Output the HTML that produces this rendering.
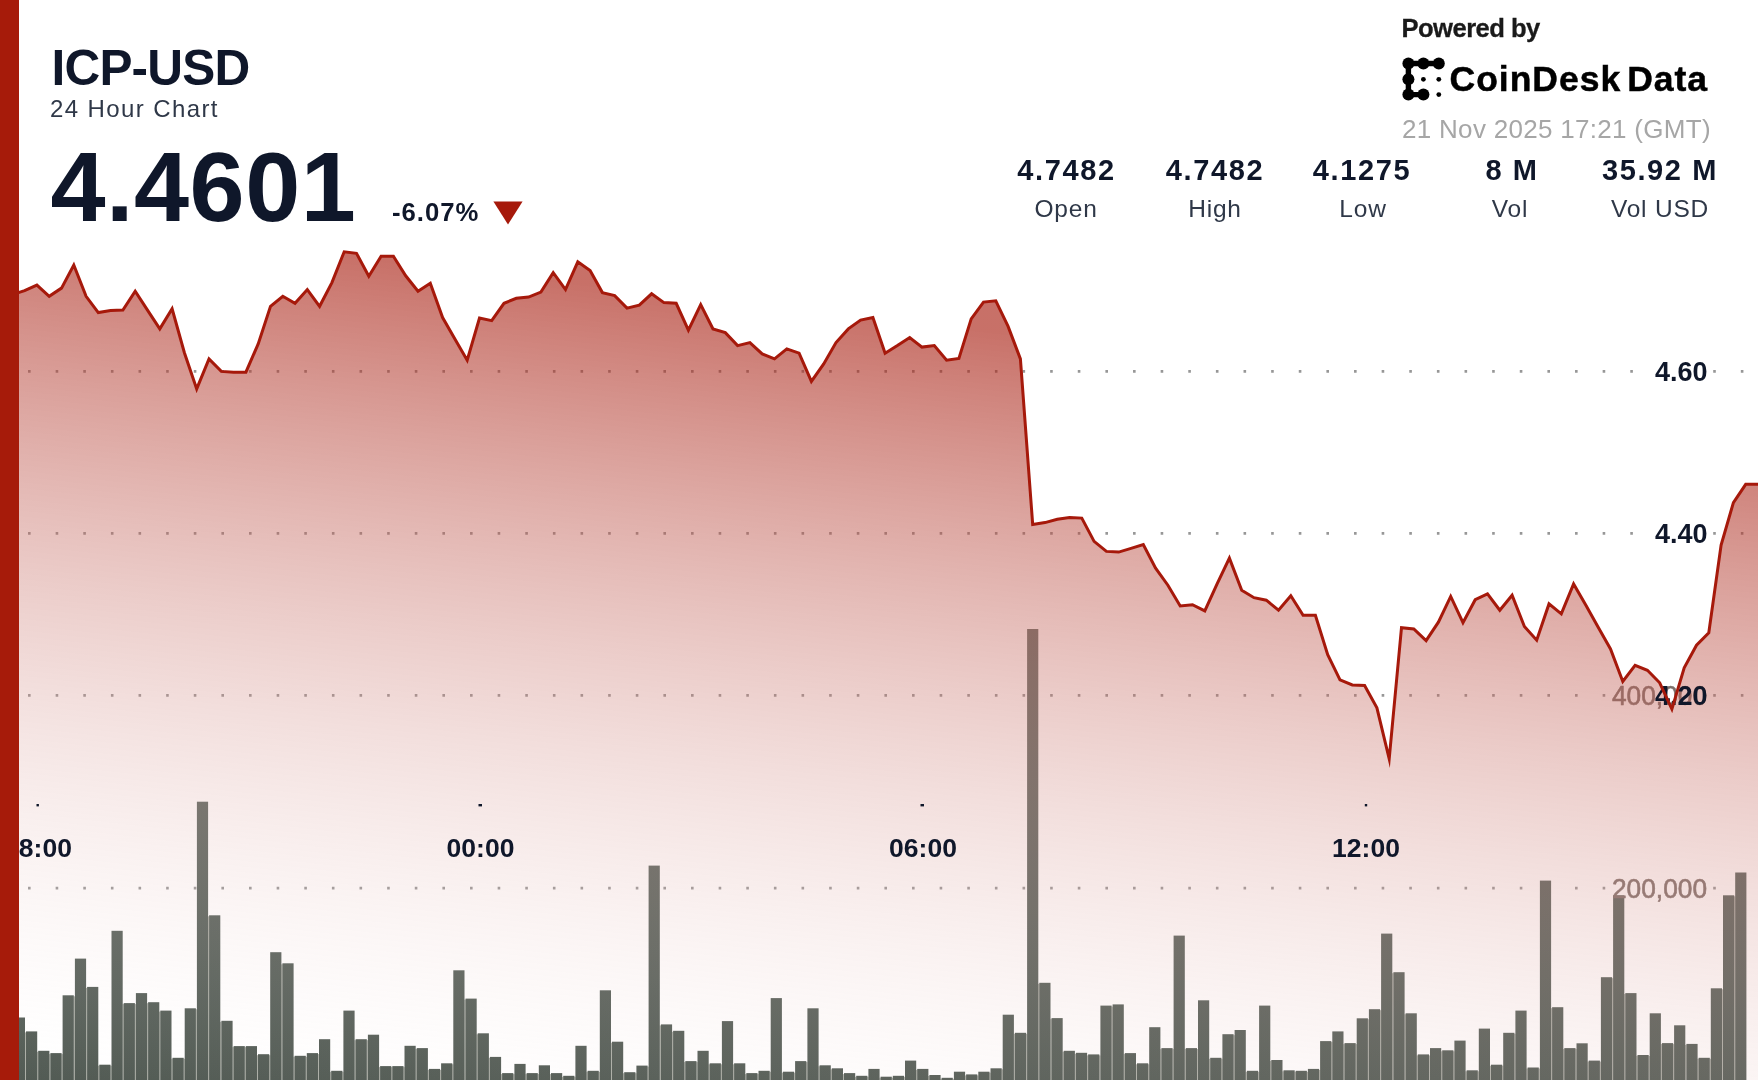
<!DOCTYPE html>
<html>
<head>
<meta charset="utf-8">
<title>ICP-USD 24 Hour Chart</title>
<style>
html,body{margin:0;padding:0;}
body{width:1758px;height:1080px;overflow:hidden;background:#fff;position:relative;font-family:"Liberation Sans",sans-serif;}
#wrap{position:absolute;left:0;top:0;width:1758px;height:1080px;overflow:hidden;filter:blur(0.5px);}
svg{position:absolute;left:0;top:0;}
.t{position:absolute;white-space:nowrap;line-height:1;}
.navy{color:#0f172a;}
.b{font-weight:bold;}
#leftbar{position:absolute;left:0;top:0;width:19px;height:1080px;background:#a61b0a;}
#sym{left:51.5px;top:43px;font-size:49.5px;letter-spacing:-0.8px;}
#sub{left:50px;top:97px;font-size:24px;color:#2f3848;letter-spacing:1.4px;}
#price{left:50.5px;top:137px;font-size:99px;letter-spacing:0.5px;}
#chg{left:392px;top:199.5px;font-size:25.7px;letter-spacing:1px;}
.val{font-size:29px;letter-spacing:1.6px;text-align:center;width:160px;top:156px;}
.lab{font-size:24.5px;letter-spacing:0.8px;text-align:center;width:160px;top:197px;color:#2f3848;}
#pw{left:1401.5px;top:16px;font-size:25.6px;color:#1a1a1a;letter-spacing:-0.55px;-webkit-text-stroke:0.3px #1a1a1a;}
#cd{left:1449.5px;top:62px;font-size:35.5px;color:#000;letter-spacing:1.0px;-webkit-text-stroke:0.5px #000;}
#dt{left:1402px;top:116px;font-size:26px;color:#a6a6a6;letter-spacing:0.3px;}
</style>
</head>
<body>
<div id="wrap">
<svg width="1758" height="1080" viewBox="0 0 1758 1080">
<defs>
<linearGradient id="g" x1="879" y1="316.9" x2="775.5" y2="1204.7" gradientUnits="userSpaceOnUse">
<stop offset="0" stop-color="#a6190b" stop-opacity="0.62"/>
<stop offset="1" stop-color="#ffffff" stop-opacity="0"/>
</linearGradient>
<linearGradient id="bg" x1="0" y1="630" x2="0" y2="1080" gradientUnits="userSpaceOnUse">
<stop offset="0" stop-color="#64706a"/>
<stop offset="1" stop-color="#4e5750"/>
</linearGradient>
</defs>
<g stroke="#979797" stroke-width="2.8" stroke-dasharray="2.6 25.025" fill="none">
<path d="M0.4,371.4H1646M1713.2,371.4H1758"/><path d="M0.4,533.3H1646M1713.2,533.3H1758"/><path d="M0.4,695.3H1618M1713.2,695.3H1758"/><path d="M0.4,888.2H1618M1713.2,888.2H1758"/>
</g>
<g fill="url(#bg)"><g fill="#a9aca4"><rect x="12.5" y="1041.0" width="1.6" height="41.0"/><rect x="24.7" y="1032.4" width="1.6" height="49.6"/><rect x="36.9" y="1051.8" width="1.6" height="30.2"/><rect x="49.1" y="1054.1" width="1.6" height="27.9"/><rect x="61.3" y="1054.1" width="1.6" height="27.9"/><rect x="73.5" y="996.3" width="1.6" height="85.7"/><rect x="85.8" y="987.9" width="1.6" height="94.1"/><rect x="98.0" y="1065.7" width="1.6" height="16.3"/><rect x="110.2" y="1065.7" width="1.6" height="16.3"/><rect x="122.4" y="1004.1" width="1.6" height="77.9"/><rect x="134.6" y="1004.1" width="1.6" height="77.9"/><rect x="146.8" y="1003.2" width="1.6" height="78.8"/><rect x="159.0" y="1011.6" width="1.6" height="70.4"/><rect x="171.2" y="1058.8" width="1.6" height="23.2"/><rect x="183.4" y="1058.8" width="1.6" height="23.2"/><rect x="195.6" y="1009.3" width="1.6" height="72.7"/><rect x="207.8" y="916.3" width="1.6" height="165.7"/><rect x="220.0" y="1021.8" width="1.6" height="60.2"/><rect x="232.3" y="1047.1" width="1.6" height="34.9"/><rect x="244.5" y="1047.1" width="1.6" height="34.9"/><rect x="256.7" y="1055.2" width="1.6" height="26.8"/><rect x="268.9" y="1055.2" width="1.6" height="26.8"/><rect x="281.1" y="964.3" width="1.6" height="117.7"/><rect x="293.3" y="1056.8" width="1.6" height="25.2"/><rect x="305.5" y="1056.8" width="1.6" height="25.2"/><rect x="317.7" y="1054.1" width="1.6" height="27.9"/><rect x="329.9" y="1071.8" width="1.6" height="10.2"/><rect x="342.1" y="1071.8" width="1.6" height="10.2"/><rect x="354.3" y="1040.2" width="1.6" height="41.8"/><rect x="366.5" y="1040.2" width="1.6" height="41.8"/><rect x="378.8" y="1067.1" width="1.6" height="14.9"/><rect x="391.0" y="1067.1" width="1.6" height="14.9"/><rect x="403.2" y="1067.1" width="1.6" height="14.9"/><rect x="415.4" y="1049.1" width="1.6" height="32.9"/><rect x="427.6" y="1069.9" width="1.6" height="12.1"/><rect x="439.8" y="1069.9" width="1.6" height="12.1"/><rect x="452.0" y="1064.3" width="1.6" height="17.7"/><rect x="464.2" y="999.6" width="1.6" height="82.4"/><rect x="476.4" y="1034.3" width="1.6" height="47.7"/><rect x="488.6" y="1057.9" width="1.6" height="24.1"/><rect x="500.8" y="1074.1" width="1.6" height="7.9"/><rect x="513.0" y="1074.1" width="1.6" height="7.9"/><rect x="525.3" y="1074.1" width="1.6" height="7.9"/><rect x="537.5" y="1074.1" width="1.6" height="7.9"/><rect x="549.7" y="1074.1" width="1.6" height="7.9"/><rect x="561.9" y="1076.8" width="1.6" height="5.2"/><rect x="574.1" y="1076.8" width="1.6" height="5.2"/><rect x="586.3" y="1071.8" width="1.6" height="10.2"/><rect x="598.5" y="1071.8" width="1.6" height="10.2"/><rect x="610.7" y="1042.7" width="1.6" height="39.3"/><rect x="622.9" y="1073.2" width="1.6" height="8.8"/><rect x="635.1" y="1073.2" width="1.6" height="8.8"/><rect x="647.3" y="1066.6" width="1.6" height="15.4"/><rect x="659.5" y="1025.4" width="1.6" height="56.6"/><rect x="671.8" y="1031.8" width="1.6" height="50.2"/><rect x="684.0" y="1062.1" width="1.6" height="19.9"/><rect x="696.2" y="1062.1" width="1.6" height="19.9"/><rect x="708.4" y="1064.3" width="1.6" height="17.7"/><rect x="720.6" y="1064.3" width="1.6" height="17.7"/><rect x="732.8" y="1064.3" width="1.6" height="17.7"/><rect x="745.0" y="1074.1" width="1.6" height="7.9"/><rect x="757.2" y="1074.1" width="1.6" height="7.9"/><rect x="769.4" y="1071.8" width="1.6" height="10.2"/><rect x="781.6" y="1072.7" width="1.6" height="9.3"/><rect x="793.8" y="1072.7" width="1.6" height="9.3"/><rect x="806.0" y="1062.1" width="1.6" height="19.9"/><rect x="818.3" y="1066.3" width="1.6" height="15.7"/><rect x="830.5" y="1069.3" width="1.6" height="12.7"/><rect x="842.7" y="1074.1" width="1.6" height="7.9"/><rect x="854.9" y="1076.8" width="1.6" height="5.2"/><rect x="867.1" y="1076.8" width="1.6" height="5.2"/><rect x="879.3" y="1077.7" width="1.6" height="4.3"/><rect x="891.5" y="1077.7" width="1.6" height="4.3"/><rect x="903.7" y="1076.8" width="1.6" height="5.2"/><rect x="915.9" y="1069.9" width="1.6" height="12.1"/><rect x="928.1" y="1076.0" width="1.6" height="6.0"/><rect x="940.3" y="1078.8" width="1.6" height="3.2"/><rect x="952.5" y="1078.8" width="1.6" height="3.2"/><rect x="964.8" y="1075.4" width="1.6" height="6.6"/><rect x="977.0" y="1075.4" width="1.6" height="6.6"/><rect x="989.2" y="1072.7" width="1.6" height="9.3"/><rect x="1001.4" y="1069.3" width="1.6" height="12.7"/><rect x="1013.6" y="1033.8" width="1.6" height="48.2"/><rect x="1025.8" y="1033.8" width="1.6" height="48.2"/><rect x="1038.0" y="983.8" width="1.6" height="98.2"/><rect x="1050.2" y="1019.1" width="1.6" height="62.9"/><rect x="1062.4" y="1051.8" width="1.6" height="30.2"/><rect x="1074.6" y="1053.8" width="1.6" height="28.2"/><rect x="1086.8" y="1055.4" width="1.6" height="26.6"/><rect x="1099.0" y="1055.4" width="1.6" height="26.6"/><rect x="1111.3" y="1006.6" width="1.6" height="75.4"/><rect x="1123.5" y="1054.1" width="1.6" height="27.9"/><rect x="1135.7" y="1064.3" width="1.6" height="17.7"/><rect x="1147.9" y="1064.3" width="1.6" height="17.7"/><rect x="1160.1" y="1049.1" width="1.6" height="32.9"/><rect x="1172.3" y="1049.1" width="1.6" height="32.9"/><rect x="1184.5" y="1049.1" width="1.6" height="32.9"/><rect x="1196.7" y="1049.1" width="1.6" height="32.9"/><rect x="1208.9" y="1058.8" width="1.6" height="23.2"/><rect x="1221.1" y="1058.8" width="1.6" height="23.2"/><rect x="1233.3" y="1035.2" width="1.6" height="46.8"/><rect x="1245.5" y="1071.8" width="1.6" height="10.2"/><rect x="1257.8" y="1071.8" width="1.6" height="10.2"/><rect x="1270.0" y="1061.0" width="1.6" height="21.0"/><rect x="1282.2" y="1071.3" width="1.6" height="10.7"/><rect x="1294.4" y="1071.8" width="1.6" height="10.2"/><rect x="1306.6" y="1071.8" width="1.6" height="10.2"/><rect x="1318.8" y="1069.9" width="1.6" height="12.1"/><rect x="1331.0" y="1042.1" width="1.6" height="39.9"/><rect x="1343.2" y="1044.1" width="1.6" height="37.9"/><rect x="1355.4" y="1044.1" width="1.6" height="37.9"/><rect x="1367.6" y="1019.3" width="1.6" height="62.7"/><rect x="1379.8" y="1010.2" width="1.6" height="71.8"/><rect x="1392.0" y="973.2" width="1.6" height="108.8"/><rect x="1404.3" y="1014.3" width="1.6" height="67.7"/><rect x="1416.5" y="1055.4" width="1.6" height="26.6"/><rect x="1428.7" y="1055.4" width="1.6" height="26.6"/><rect x="1440.9" y="1051.3" width="1.6" height="30.7"/><rect x="1453.1" y="1051.3" width="1.6" height="30.7"/><rect x="1465.3" y="1071.3" width="1.6" height="10.7"/><rect x="1477.5" y="1071.3" width="1.6" height="10.7"/><rect x="1489.7" y="1065.7" width="1.6" height="16.3"/><rect x="1501.9" y="1065.7" width="1.6" height="16.3"/><rect x="1514.1" y="1033.8" width="1.6" height="48.2"/><rect x="1526.3" y="1068.5" width="1.6" height="13.5"/><rect x="1538.5" y="1068.5" width="1.6" height="13.5"/><rect x="1550.8" y="1008.2" width="1.6" height="73.8"/><rect x="1563.0" y="1049.1" width="1.6" height="32.9"/><rect x="1575.2" y="1049.1" width="1.6" height="32.9"/><rect x="1587.4" y="1061.6" width="1.6" height="20.4"/><rect x="1599.6" y="1061.6" width="1.6" height="20.4"/><rect x="1611.8" y="978.2" width="1.6" height="103.8"/><rect x="1624.0" y="994.1" width="1.6" height="87.9"/><rect x="1636.2" y="1056.0" width="1.6" height="26.0"/><rect x="1648.4" y="1056.0" width="1.6" height="26.0"/><rect x="1660.6" y="1044.1" width="1.6" height="37.9"/><rect x="1672.8" y="1044.1" width="1.6" height="37.9"/><rect x="1685.0" y="1044.9" width="1.6" height="37.1"/><rect x="1697.3" y="1058.8" width="1.6" height="23.2"/><rect x="1709.5" y="1058.8" width="1.6" height="23.2"/><rect x="1721.7" y="989.3" width="1.6" height="92.7"/><rect x="1733.9" y="896.3" width="1.6" height="185.7"/></g><rect x="1.6" y="1040.0" width="11.2" height="42.0"/><rect x="13.8" y="1017.5" width="11.2" height="64.5"/><rect x="26.0" y="1031.4" width="11.2" height="50.6"/><rect x="38.2" y="1050.8" width="11.2" height="31.2"/><rect x="50.4" y="1053.1" width="11.2" height="28.9"/><rect x="62.6" y="995.3" width="11.2" height="86.7"/><rect x="74.9" y="958.6" width="11.2" height="123.4"/><rect x="87.1" y="986.9" width="11.2" height="95.1"/><rect x="99.3" y="1064.7" width="11.2" height="17.3"/><rect x="111.5" y="930.8" width="11.2" height="151.2"/><rect x="123.7" y="1003.1" width="11.2" height="78.9"/><rect x="135.9" y="993.1" width="11.2" height="88.9"/><rect x="148.1" y="1002.2" width="11.2" height="79.8"/><rect x="160.3" y="1010.6" width="11.2" height="71.4"/><rect x="172.5" y="1057.8" width="11.2" height="24.2"/><rect x="184.7" y="1008.3" width="11.2" height="73.7"/><rect x="196.9" y="801.7" width="11.2" height="280.3"/><rect x="209.1" y="915.3" width="11.2" height="166.7"/><rect x="221.4" y="1020.8" width="11.2" height="61.2"/><rect x="233.6" y="1046.1" width="11.2" height="35.9"/><rect x="245.8" y="1046.1" width="11.2" height="35.9"/><rect x="258.0" y="1054.2" width="11.2" height="27.8"/><rect x="270.2" y="952.2" width="11.2" height="129.8"/><rect x="282.4" y="963.3" width="11.2" height="118.7"/><rect x="294.6" y="1055.8" width="11.2" height="26.2"/><rect x="306.8" y="1053.1" width="11.2" height="28.9"/><rect x="319.0" y="1039.2" width="11.2" height="42.8"/><rect x="331.2" y="1070.8" width="11.2" height="11.2"/><rect x="343.4" y="1010.6" width="11.2" height="71.4"/><rect x="355.6" y="1039.2" width="11.2" height="42.8"/><rect x="367.9" y="1034.7" width="11.2" height="47.3"/><rect x="380.1" y="1066.1" width="11.2" height="15.9"/><rect x="392.3" y="1066.1" width="11.2" height="15.9"/><rect x="404.5" y="1045.8" width="11.2" height="36.2"/><rect x="416.7" y="1048.1" width="11.2" height="33.9"/><rect x="428.9" y="1068.9" width="11.2" height="13.1"/><rect x="441.1" y="1063.3" width="11.2" height="18.7"/><rect x="453.3" y="970.3" width="11.2" height="111.7"/><rect x="465.5" y="998.6" width="11.2" height="83.4"/><rect x="477.7" y="1033.3" width="11.2" height="48.7"/><rect x="489.9" y="1056.9" width="11.2" height="25.1"/><rect x="502.1" y="1073.1" width="11.2" height="8.9"/><rect x="514.4" y="1063.9" width="11.2" height="18.1"/><rect x="526.6" y="1073.1" width="11.2" height="8.9"/><rect x="538.8" y="1065.3" width="11.2" height="16.7"/><rect x="551.0" y="1073.1" width="11.2" height="8.9"/><rect x="563.2" y="1075.8" width="11.2" height="6.2"/><rect x="575.4" y="1045.8" width="11.2" height="36.2"/><rect x="587.6" y="1070.8" width="11.2" height="11.2"/><rect x="599.8" y="990.3" width="11.2" height="91.7"/><rect x="612.0" y="1041.7" width="11.2" height="40.3"/><rect x="624.2" y="1072.2" width="11.2" height="9.8"/><rect x="636.4" y="1065.6" width="11.2" height="16.4"/><rect x="648.6" y="865.6" width="11.2" height="216.4"/><rect x="660.9" y="1024.4" width="11.2" height="57.6"/><rect x="673.1" y="1030.8" width="11.2" height="51.2"/><rect x="685.3" y="1061.1" width="11.2" height="20.9"/><rect x="697.5" y="1050.8" width="11.2" height="31.2"/><rect x="709.7" y="1063.3" width="11.2" height="18.7"/><rect x="721.9" y="1021.1" width="11.2" height="60.9"/><rect x="734.1" y="1063.3" width="11.2" height="18.7"/><rect x="746.3" y="1073.1" width="11.2" height="8.9"/><rect x="758.5" y="1070.8" width="11.2" height="11.2"/><rect x="770.7" y="998.1" width="11.2" height="83.9"/><rect x="782.9" y="1071.7" width="11.2" height="10.3"/><rect x="795.1" y="1061.1" width="11.2" height="20.9"/><rect x="807.4" y="1008.3" width="11.2" height="73.7"/><rect x="819.6" y="1065.3" width="11.2" height="16.7"/><rect x="831.8" y="1068.3" width="11.2" height="13.7"/><rect x="844.0" y="1073.1" width="11.2" height="8.9"/><rect x="856.2" y="1075.8" width="11.2" height="6.2"/><rect x="868.4" y="1068.9" width="11.2" height="13.1"/><rect x="880.6" y="1076.7" width="11.2" height="5.3"/><rect x="892.8" y="1075.8" width="11.2" height="6.2"/><rect x="905.0" y="1060.6" width="11.2" height="21.4"/><rect x="917.2" y="1068.9" width="11.2" height="13.1"/><rect x="929.4" y="1075.0" width="11.2" height="7.0"/><rect x="941.6" y="1077.8" width="11.2" height="4.2"/><rect x="953.9" y="1071.7" width="11.2" height="10.3"/><rect x="966.1" y="1074.4" width="11.2" height="7.6"/><rect x="978.3" y="1071.7" width="11.2" height="10.3"/><rect x="990.5" y="1068.3" width="11.2" height="13.7"/><rect x="1002.7" y="1014.7" width="11.2" height="67.3"/><rect x="1014.9" y="1032.8" width="11.2" height="49.2"/><rect x="1027.1" y="629.0" width="11.2" height="453.0"/><rect x="1039.3" y="982.8" width="11.2" height="99.2"/><rect x="1051.5" y="1018.1" width="11.2" height="63.9"/><rect x="1063.7" y="1050.8" width="11.2" height="31.2"/><rect x="1075.9" y="1052.8" width="11.2" height="29.2"/><rect x="1088.1" y="1054.4" width="11.2" height="27.6"/><rect x="1100.4" y="1005.6" width="11.2" height="76.4"/><rect x="1112.6" y="1004.4" width="11.2" height="77.6"/><rect x="1124.8" y="1053.1" width="11.2" height="28.9"/><rect x="1137.0" y="1063.3" width="11.2" height="18.7"/><rect x="1149.2" y="1027.2" width="11.2" height="54.8"/><rect x="1161.4" y="1048.1" width="11.2" height="33.9"/><rect x="1173.6" y="935.6" width="11.2" height="146.4"/><rect x="1185.8" y="1048.1" width="11.2" height="33.9"/><rect x="1198.0" y="1000.3" width="11.2" height="81.7"/><rect x="1210.2" y="1057.8" width="11.2" height="24.2"/><rect x="1222.4" y="1034.2" width="11.2" height="47.8"/><rect x="1234.6" y="1030.0" width="11.2" height="52.0"/><rect x="1246.9" y="1070.8" width="11.2" height="11.2"/><rect x="1259.1" y="1005.6" width="11.2" height="76.4"/><rect x="1271.3" y="1060.0" width="11.2" height="22.0"/><rect x="1283.5" y="1070.3" width="11.2" height="11.7"/><rect x="1295.7" y="1070.8" width="11.2" height="11.2"/><rect x="1307.9" y="1068.9" width="11.2" height="13.1"/><rect x="1320.1" y="1041.1" width="11.2" height="40.9"/><rect x="1332.3" y="1031.4" width="11.2" height="50.6"/><rect x="1344.5" y="1043.1" width="11.2" height="38.9"/><rect x="1356.7" y="1018.3" width="11.2" height="63.7"/><rect x="1368.9" y="1009.2" width="11.2" height="72.8"/><rect x="1381.1" y="933.6" width="11.2" height="148.4"/><rect x="1393.4" y="972.2" width="11.2" height="109.8"/><rect x="1405.6" y="1013.3" width="11.2" height="68.7"/><rect x="1417.8" y="1054.4" width="11.2" height="27.6"/><rect x="1430.0" y="1048.1" width="11.2" height="33.9"/><rect x="1442.2" y="1050.3" width="11.2" height="31.7"/><rect x="1454.4" y="1040.6" width="11.2" height="41.4"/><rect x="1466.6" y="1070.3" width="11.2" height="11.7"/><rect x="1478.8" y="1028.6" width="11.2" height="53.4"/><rect x="1491.0" y="1064.7" width="11.2" height="17.3"/><rect x="1503.2" y="1032.8" width="11.2" height="49.2"/><rect x="1515.4" y="1010.6" width="11.2" height="71.4"/><rect x="1527.6" y="1067.5" width="11.2" height="14.5"/><rect x="1539.9" y="880.6" width="11.2" height="201.4"/><rect x="1552.1" y="1007.2" width="11.2" height="74.8"/><rect x="1564.3" y="1048.1" width="11.2" height="33.9"/><rect x="1576.5" y="1043.3" width="11.2" height="38.7"/><rect x="1588.7" y="1060.6" width="11.2" height="21.4"/><rect x="1600.9" y="977.2" width="11.2" height="104.8"/><rect x="1613.1" y="895.3" width="11.2" height="186.7"/><rect x="1625.3" y="993.1" width="11.2" height="88.9"/><rect x="1637.5" y="1055.0" width="11.2" height="27.0"/><rect x="1649.7" y="1013.3" width="11.2" height="68.7"/><rect x="1661.9" y="1043.1" width="11.2" height="38.9"/><rect x="1674.1" y="1025.3" width="11.2" height="56.7"/><rect x="1686.4" y="1043.9" width="11.2" height="38.1"/><rect x="1698.6" y="1057.8" width="11.2" height="24.2"/><rect x="1710.8" y="988.3" width="11.2" height="93.7"/><rect x="1723.0" y="895.3" width="11.2" height="186.7"/><rect x="1735.2" y="872.5" width="11.2" height="209.5"/></g>
<g font-family="Liberation Sans, sans-serif" font-size="27.5" fill="#7d6f6a" stroke="#7d6f6a" stroke-width="0.6" text-anchor="end">
<text x="1707" y="705.3" textLength="95" lengthAdjust="spacingAndGlyphs">400,000</text>
<text x="1707" y="898.2" textLength="95" lengthAdjust="spacingAndGlyphs">200,000</text>
</g>
<path d="M0,1080 L0.0,295.6 L12.3,294.6 L24.6,290.6 L36.9,285.1 L49.2,296.3 L61.5,288.1 L73.8,265.0 L86.1,296.3 L98.3,312.6 L110.6,310.6 L122.9,310.1 L135.2,291.3 L147.5,310.1 L159.8,328.9 L172.1,308.8 L184.4,352.7 L196.7,388.9 L209.0,358.9 L221.3,371.4 L233.6,372.2 L245.9,372.2 L258.2,343.9 L270.5,306.3 L282.8,296.3 L295.0,303.3 L307.3,289.6 L319.6,306.3 L331.9,282.6 L344.2,251.8 L356.5,253.3 L368.8,276.3 L381.1,256.3 L393.4,256.3 L405.7,275.8 L418.0,291.3 L430.3,283.3 L442.6,317.6 L454.9,338.9 L467.2,360.2 L479.5,318.1 L491.7,320.6 L504.0,303.3 L516.3,298.3 L528.6,297.1 L540.9,292.1 L553.2,272.6 L565.5,289.6 L577.8,261.8 L590.1,270.6 L602.4,292.6 L614.7,295.6 L627.0,308.1 L639.3,305.1 L651.6,293.8 L663.9,302.6 L676.2,303.3 L688.4,330.1 L700.7,304.6 L713.0,328.9 L725.3,332.6 L737.6,345.6 L749.9,342.6 L762.2,353.9 L774.5,358.9 L786.8,348.9 L799.1,353.2 L811.4,381.4 L823.7,363.9 L836.0,342.6 L848.3,328.9 L860.6,320.1 L872.9,317.6 L885.1,353.2 L897.4,345.6 L909.7,337.6 L922.0,347.1 L934.3,345.6 L946.6,360.2 L958.9,358.4 L971.2,318.9 L983.5,302.1 L995.8,300.8 L1008.1,326.4 L1020.4,358.9 L1032.7,524.6 L1045.0,522.6 L1057.3,519.3 L1069.6,517.6 L1081.8,518.1 L1094.1,541.4 L1106.4,551.4 L1118.7,552.1 L1131.0,548.4 L1143.3,544.6 L1155.6,568.1 L1167.9,585.2 L1180.2,605.9 L1192.5,604.7 L1204.8,610.9 L1217.1,583.9 L1229.4,558.1 L1241.7,590.2 L1254.0,597.7 L1266.3,600.2 L1278.5,610.2 L1290.8,595.7 L1303.1,615.2 L1315.4,615.2 L1327.7,654.7 L1340.0,679.8 L1352.3,685.0 L1364.6,685.5 L1376.9,707.8 L1389.2,758.8 L1401.5,627.7 L1413.8,629.0 L1426.1,640.7 L1438.4,622.2 L1450.7,596.4 L1463.0,622.7 L1475.2,599.7 L1487.5,593.9 L1499.8,610.2 L1512.1,595.2 L1524.4,626.5 L1536.7,640.2 L1549.0,603.9 L1561.3,613.9 L1573.6,583.9 L1585.9,605.2 L1598.2,627.2 L1610.5,649.0 L1622.8,681.5 L1635.1,665.3 L1647.4,670.3 L1659.7,682.8 L1671.9,709.1 L1684.2,667.8 L1696.5,645.2 L1708.8,632.7 L1721.1,545.1 L1733.4,502.6 L1745.7,484.3 L1758.0,484.3 L1758,1080 Z" fill="url(#g)"/>
<g font-family="Liberation Sans, sans-serif" font-size="27" font-weight="bold" fill="#0f172a" text-anchor="end">
<text x="1707.6" y="381.2">4.60</text>
<text x="1707.6" y="543.2">4.40</text>
<text x="1707.6" y="705.2">4.20</text>
</g>
<polyline points="0.0,295.6 12.3,294.6 24.6,290.6 36.9,285.1 49.2,296.3 61.5,288.1 73.8,265.0 86.1,296.3 98.3,312.6 110.6,310.6 122.9,310.1 135.2,291.3 147.5,310.1 159.8,328.9 172.1,308.8 184.4,352.7 196.7,388.9 209.0,358.9 221.3,371.4 233.6,372.2 245.9,372.2 258.2,343.9 270.5,306.3 282.8,296.3 295.0,303.3 307.3,289.6 319.6,306.3 331.9,282.6 344.2,251.8 356.5,253.3 368.8,276.3 381.1,256.3 393.4,256.3 405.7,275.8 418.0,291.3 430.3,283.3 442.6,317.6 454.9,338.9 467.2,360.2 479.5,318.1 491.7,320.6 504.0,303.3 516.3,298.3 528.6,297.1 540.9,292.1 553.2,272.6 565.5,289.6 577.8,261.8 590.1,270.6 602.4,292.6 614.7,295.6 627.0,308.1 639.3,305.1 651.6,293.8 663.9,302.6 676.2,303.3 688.4,330.1 700.7,304.6 713.0,328.9 725.3,332.6 737.6,345.6 749.9,342.6 762.2,353.9 774.5,358.9 786.8,348.9 799.1,353.2 811.4,381.4 823.7,363.9 836.0,342.6 848.3,328.9 860.6,320.1 872.9,317.6 885.1,353.2 897.4,345.6 909.7,337.6 922.0,347.1 934.3,345.6 946.6,360.2 958.9,358.4 971.2,318.9 983.5,302.1 995.8,300.8 1008.1,326.4 1020.4,358.9 1032.7,524.6 1045.0,522.6 1057.3,519.3 1069.6,517.6 1081.8,518.1 1094.1,541.4 1106.4,551.4 1118.7,552.1 1131.0,548.4 1143.3,544.6 1155.6,568.1 1167.9,585.2 1180.2,605.9 1192.5,604.7 1204.8,610.9 1217.1,583.9 1229.4,558.1 1241.7,590.2 1254.0,597.7 1266.3,600.2 1278.5,610.2 1290.8,595.7 1303.1,615.2 1315.4,615.2 1327.7,654.7 1340.0,679.8 1352.3,685.0 1364.6,685.5 1376.9,707.8 1389.2,758.8 1401.5,627.7 1413.8,629.0 1426.1,640.7 1438.4,622.2 1450.7,596.4 1463.0,622.7 1475.2,599.7 1487.5,593.9 1499.8,610.2 1512.1,595.2 1524.4,626.5 1536.7,640.2 1549.0,603.9 1561.3,613.9 1573.6,583.9 1585.9,605.2 1598.2,627.2 1610.5,649.0 1622.8,681.5 1635.1,665.3 1647.4,670.3 1659.7,682.8 1671.9,709.1 1684.2,667.8 1696.5,645.2 1708.8,632.7 1721.1,545.1 1733.4,502.6 1745.7,484.3 1758.0,484.3" fill="none" stroke="#a6190b" stroke-width="3" stroke-linejoin="miter" stroke-miterlimit="10"/>
<g fill="#0f172a">
<rect x="36.5" y="804" width="2.4" height="2.4"/><rect x="478.5" y="804" width="3.5" height="2.4"/><rect x="920.5" y="804" width="3.5" height="2.4"/><rect x="1364.8" y="804" width="2.4" height="2.4"/>
</g>
<g font-family="Liberation Sans, sans-serif" font-size="26.5" font-weight="bold" fill="#0f172a" text-anchor="middle">
<text x="38" y="856.5">18:00</text>
<text x="480.5" y="856.5">00:00</text>
<text x="923" y="856.5">06:00</text>
<text x="1366" y="856.5">12:00</text>
</g>
</svg>
<div id="leftbar"></div>
<div class="t navy b" id="sym">ICP-USD</div>
<div class="t" id="sub">24 Hour Chart</div>
<div class="t navy b" id="price">4.4601</div>
<div class="t navy b" id="chg">-6.07%</div>
<svg width="40" height="30" style="left:490px;top:198px" viewBox="0 0 40 30"><path d="M3.4,3.5 H32.6 L18,26.5 Z" fill="#a6190b"/></svg>

<div class="t navy b val" style="left:986.5px">4.7482</div>
<div class="t navy b val" style="left:1135px">4.7482</div>
<div class="t navy b val" style="left:1282px">4.1275</div>
<div class="t navy b val" style="left:1432px">8 M</div>
<div class="t navy b val" style="left:1580px">35.92 M</div>
<div class="t lab" style="left:986px">Open</div>
<div class="t lab" style="left:1135px">High</div>
<div class="t lab" style="left:1283px">Low</div>
<div class="t lab" style="left:1430px">Vol</div>
<div class="t lab" style="left:1580px">Vol USD</div>

<div class="t b" id="pw">Powered by</div>
<svg width="50" height="50" style="left:1398px;top:54px" viewBox="1398 54 50 50">
<g stroke="#000" stroke-width="5.4" stroke-linecap="round" fill="none">
<path d="M1438.8,63.5H1408.4V94.6H1423.4"/>
</g>
<g fill="#000">
<circle cx="1408.4" cy="63.5" r="6"/><circle cx="1423.4" cy="63.5" r="6"/><circle cx="1438.8" cy="63.5" r="6"/>
<circle cx="1408.4" cy="79.3" r="6"/><circle cx="1408.4" cy="94.6" r="6"/><circle cx="1423.4" cy="94.6" r="6"/>
<circle cx="1423.4" cy="79.3" r="2.4"/><circle cx="1438.8" cy="79.3" r="2.4"/><circle cx="1438.8" cy="94.6" r="2.4"/>
</g>
</svg>
<div class="t b" id="cd">CoinDesk<span style="letter-spacing:-4px"> </span>Data</div>
<div class="t" id="dt">21 Nov 2025 17:21 (GMT)</div>
</div>
</body>
</html>
